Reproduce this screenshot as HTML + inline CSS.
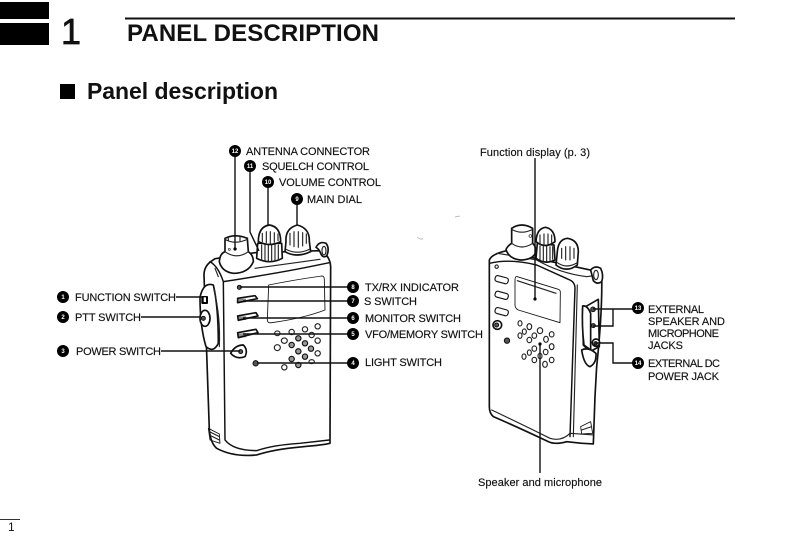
<!DOCTYPE html>
<html><head><meta charset="utf-8"><style>
html,body{margin:0;padding:0;background:#fff;width:793px;height:558px;overflow:hidden}
svg{display:block}
text{font-family:"Liberation Sans",sans-serif;fill:#111}
.l{font-size:11px;stroke:#111;stroke-width:.15px}
.n{font-size:6px;fill:#fff;text-anchor:middle;font-weight:bold}
.b{fill:#000}
.w{fill:#fff;stroke:#111;stroke-width:5;stroke-linejoin:round;stroke-linecap:round}
.o{fill:none;stroke:#111;stroke-width:4.4;stroke-linejoin:round;stroke-linecap:round}
.t{fill:none;stroke:#222;stroke-width:3.4;stroke-linecap:round}
.h{fill:#fff;stroke:#222;stroke-width:3.4}
.hd{fill:#999;stroke:#111;stroke-width:3.4}
.d{fill:#555;stroke:#111;stroke-width:3}
.c{stroke:#111;stroke-width:1.4;fill:none}
</style></head><body>
<svg width="793" height="558" viewBox="0 0 793 558" xmlns="http://www.w3.org/2000/svg">
<rect width="793" height="558" fill="#fff"/>
<rect x="0" y="2" width="49" height="17" fill="#000"/>
<rect x="0" y="23" width="49" height="22" fill="#000"/>
<text x="61" y="44" style="font-size:36px;stroke:#111;stroke-width:.7px" textLength="20">1</text>
<rect x="125" y="17.5" width="610" height="2" fill="#111"/>
<text x="127" y="41" style="font-size:24px;font-weight:bold" textLength="252">PANEL DESCRIPTION</text>
<rect x="60" y="84" width="15" height="15" fill="#000"/>
<text x="87" y="99" style="font-size:23px;font-weight:bold" textLength="191">Panel description</text>
<rect x="0" y="519" width="20" height="1" fill="#333"/>
<text x="8" y="531" style="font-size:12px">1</text>
<path d="M417,237l3,2l3,0M455,217l5,-1" stroke="#aaa" stroke-width=".7" fill="none"/>

<!-- left radio -->
<g transform="translate(190,210) scale(.3333)">
<path class="w" d="M42,195 Q42,170 62,155 L75,146 L195,128 L390,122 Q420,135 422,170 L420,700 Q400,705 340,710 Q250,718 200,735 Q130,742 80,715 Q62,700 58,660 Z"/>
<path class="o" d="M60,155 Q85,170 100,215 L105,690 Q130,722 200,722 Q250,705 330,700 L418,690"/>
<path class="o" d="M100,215 Q260,190 350,172 L418,158"/>
<path class="t" d="M75,175 L85,200 M195,175 L390,148"/>
<path class="w" d="M30,262 Q40,215 70,225 Q85,290 85,400 Q70,430 48,410 Q30,350 30,262 Z"/>
<path class="t" d="M72,240 Q92,320 88,410"/>
<rect class="b" x="34" y="258" width="20" height="24" rx="3"/>
<rect x="41" y="262" width="7" height="14" fill="#fff"/>
<ellipse cx="45" cy="325" rx="15" ry="24" class="w"/>
<circle cx="40" cy="325" r="6" class="d"/>
<!-- antenna -->
<path class="w" d="M88,155 Q90,130 105,125 L105,85 Q135,70 172,85 L175,125 Q190,135 190,155 Q175,190 130,190 Q95,185 88,155 Z"/>
<path class="t" d="M105,88 Q135,105 172,88 M115,80 L115,92 M150,78 L150,92 M105,125 Q140,150 175,125"/>
<circle cx="136" cy="117" r="4" fill="#000"/><circle cx="118" cy="118" r="3" fill="none" stroke="#222" stroke-width="2"/>
<!-- squelch + volume -->
<path class="w" d="M203,100 L275,100 L277,145 Q240,165 200,145 Z"/>
<path class="t" d="M215,105 V150 M225,105 V152 M235,105 V153 M245,105 V153 M255,105 V152 M265,105 V148"/>
<path class="w" d="M205,95 Q205,50 238,45 Q272,50 272,95 Q240,112 205,95 Z"/>
<path class="t" d="M217,70 V95 M229,65 V98 M241,65 V100 M253,68 V97 M264,72 V92"/>
<path class="w" d="M285,125 L288,95 Q285,55 322,45 Q360,55 358,95 L362,125 Q320,145 285,125 Z"/>
<path class="t" d="M300,70 V105 M312,65 V110 M325,65 V112 M338,68 V108 M349,72 V100 M288,118 Q322,135 358,118"/>
<!-- strap lug -->
<path class="w" d="M378,112 Q388,92 408,100 Q420,115 410,138 Q398,145 392,130 Q388,118 378,112 Z"/>
<ellipse cx="402" cy="122" rx="6" ry="13" class="t"/>
<!-- display -->
<path class="o" d="M236,225 Q310,210 395,198 Q403,198 403,208 L405,300 Q340,325 245,338 Q232,340 232,330 Z" style="stroke-width:2.6"/>
<!-- buttons -->
<path class="w" d="M143,265 L195,257 L202,266 L143,278 Z"/><rect x="146" y="266" width="22" height="11" class="b" fill-opacity=".45"/>
<path class="w" d="M143,318 L198,308 L204,318 L145,331 Z"/><rect x="146" y="319" width="22" height="11" class="b" fill-opacity=".45"/>
<path class="w" d="M143,368 L198,358 L204,368 L145,383 Z"/><rect x="146" y="370" width="22" height="12" class="b" fill-opacity=".45"/>
<circle cx="148" cy="232" r="6" class="d"/>
<path class="w" d="M122,430 Q135,405 160,405 Q175,420 165,440 Q140,450 122,430 Z"/><circle cx="152" cy="425" r="6" class="d"/>
<circle cx="197" cy="460" r="8" class="d"/>
<!-- speaker holes -->
<g class="h">
<ellipse cx="262" cy="370" rx="8" ry="7"/><ellipse cx="305" cy="366" rx="8" ry="8"/><ellipse cx="345" cy="358" rx="8" ry="8"/><ellipse cx="383" cy="349" rx="8" ry="8"/>
<ellipse cx="365" cy="375" rx="8" ry="8"/><ellipse cx="283" cy="392" rx="9" ry="8"/>
<ellipse cx="262" cy="413" rx="9" ry="9"/><ellipse cx="383" cy="392" rx="8" ry="8"/>
<ellipse cx="383" cy="430" rx="8" ry="8"/>
<ellipse cx="283" cy="472" rx="8" ry="8"/><ellipse cx="365" cy="455" rx="8" ry="6"/>
</g>
<g class="hd">
<ellipse cx="325" cy="385" rx="8" ry="8"/><ellipse cx="305" cy="405" rx="8" ry="8"/><ellipse cx="345" cy="400" rx="8" ry="8"/>
<ellipse cx="325" cy="424" rx="8" ry="8"/><ellipse cx="363" cy="416" rx="8" ry="8"/>
<ellipse cx="305" cy="447" rx="8" ry="8"/><ellipse cx="345" cy="440" rx="8" ry="8"/><ellipse cx="325" cy="465" rx="8" ry="8"/>
</g>
<!-- bottom clip -->
<path class="o" d="M55,655 L88,672 L90,700 L60,690 Z" style="stroke-width:2.6"/>
<path class="t" d="M58,665 L88,680 M58,675 L88,690"/>
</g>

<!-- right radio -->
<g transform="translate(480,210) scale(.3333)">
<path class="w" d="M28,150 Q35,132 80,122 L120,135 L330,180 L365,190 Q368,300 350,470 L345,560 L340,702 Q300,700 260,695 Q225,705 205,695 Q110,650 40,620 Q28,610 28,590 Z"/>
<path class="o" d="M28,160 Q90,145 170,165 L265,208 Q285,215 285,235 L270,680"/>
<path class="t" d="M50,130 Q120,140 170,150 Q240,190 320,200 M320,200 L355,195 M292,225 L280,680"/>
<path class="t" d="M35,600 Q120,640 210,685 Q245,695 270,670 L340,675"/>
<!-- antenna -->
<path class="w" d="M78,118 Q85,105 95,100 L95,55 Q125,35 158,55 L158,100 Q168,110 168,125 Q160,150 120,150 Q85,145 78,118 Z"/>
<path class="t" d="M95,58 Q125,75 158,58 M95,100 Q125,122 158,100"/>
<circle cx="151" cy="78" r="4" fill="#fff" stroke="#222" stroke-width="2"/>
<!-- knobs -->
<path class="w" d="M172,100 L222,105 L225,150 Q195,165 168,145 Z"/>
<path class="t" d="M180,108 V150 M190,108 V155 M200,108 V155 M210,110 V152 M218,110 V148"/>
<path class="w" d="M168,95 Q170,55 197,52 Q225,58 225,95 Q195,118 168,95 Z"/>
<path class="t" d="M180,75 V103 M192,72 V106 M204,72 V106 M215,75 V102"/>
<path class="w" d="M228,165 L232,125 Q235,88 262,85 Q295,90 295,125 L292,165 Q260,190 228,165 Z"/>
<path class="t" d="M245,115 V145 M257,110 V150 M270,110 V150 M282,115 V145 M232,158 Q260,178 292,158"/>
<path class="w" d="M332,180 Q345,165 362,175 Q372,195 365,215 Q352,225 340,212 Z"/>
<ellipse cx="348" cy="195" rx="7" ry="14" class="t"/>
<!-- display -->
<path class="o" d="M112,200 L235,238 Q242,240 241,250 L240,338 L115,300 Q105,295 105,285 L105,210 Q105,198 112,200 Z" style="stroke-width:2.6"/>
<path class="t" d="M112,212 L228,250"/>
<!-- buttons -->
<rect class="w" x="45" y="200" width="40" height="18" rx="7" transform="rotate(15 65 209)" style="stroke-width:3.4"/>
<rect class="w" x="45" y="247" width="40" height="18" rx="7" transform="rotate(15 65 256)" style="stroke-width:3.4"/>
<rect class="w" x="45" y="296" width="40" height="18" rx="7" transform="rotate(15 65 305)" style="stroke-width:3.4"/>
<circle cx="50" cy="170" r="5" class="h"/>
<circle cx="52" cy="345" r="13" class="w" style="stroke-width:5"/><circle cx="50" cy="345" r="6" class="d"/>
<circle cx="81" cy="392" r="8" class="d"/>
<g class="h">
<ellipse cx="120" cy="340" rx="6" ry="8"/><ellipse cx="148" cy="350" rx="7" ry="9"/><ellipse cx="180" cy="362" rx="8" ry="9"/>
<ellipse cx="120" cy="377" rx="6" ry="8"/><ellipse cx="133" cy="365" rx="6" ry="8"/><ellipse cx="163" cy="377" rx="7" ry="8"/><ellipse cx="215" cy="373" rx="7" ry="8"/>
<ellipse cx="148" cy="390" rx="7" ry="8"/><ellipse cx="198" cy="388" rx="7" ry="9"/>
<ellipse cx="163" cy="416" rx="7" ry="8"/><ellipse cx="215" cy="410" rx="7" ry="9"/>
<ellipse cx="132" cy="440" rx="6" ry="8"/><ellipse cx="148" cy="428" rx="6" ry="8"/><ellipse cx="197" cy="426" rx="7" ry="8"/>
<ellipse cx="163" cy="450" rx="7" ry="8"/><ellipse cx="180" cy="438" rx="6" ry="8"/><ellipse cx="215" cy="450" rx="7" ry="8"/>
<ellipse cx="195" cy="463" rx="7" ry="9"/>
</g>
<!-- side jack cover -->
<path class="w" d="M308,295 L355,268 L358,410 L330,425 L310,405 Z"/>
<path class="w" d="M308,288 Q322,285 332,310 L332,420 L312,405 Q305,350 308,288 Z"/>
<path class="w" d="M305,420 Q325,410 348,430 Q350,460 330,470 Q312,465 305,420 Z"/>
<circle cx="339" cy="298" r="7" class="d"/>
<circle cx="340" cy="347" r="6" class="d"/>
<circle cx="348" cy="398" r="11" class="w"/><circle cx="347" cy="400" r="5" class="d"/>
<path class="o" d="M302,650 L332,635 L338,670 L305,672 Z" style="stroke-width:2.6"/>
<path class="t" d="M305,660 L335,650"/>
</g>

<!-- connectors -->
<g class="c">
<path d="M235,156V249"/><path d="M250,171V232L259,251"/><path d="M268,187V226"/><path d="M297,204V225"/>
<path d="M176,297H202"/><path d="M141,317H200"/><path d="M161,351H240"/>
<path d="M240,287H348"/><path d="M243,301H348"/><path d="M243,318H348"/><path d="M243,334H348"/><path d="M257,363H348"/>
<path d="M535,158V299"/><path d="M540,344V473"/>
<path d="M593,309H633M613,309V326H593"/><path d="M595,343H613V363H633"/>
</g>
<circle cx="235" cy="249" r="1.6" fill="#000"/><circle cx="535" cy="299" r="1.6" fill="#000"/><circle cx="540" cy="344" r="1.6" fill="#000"/>

<!-- bullets -->
<g class="b">
<circle cx="63" cy="297" r="6"/><circle cx="63" cy="317" r="6"/><circle cx="63" cy="351" r="6"/>
<circle cx="353" cy="363" r="6"/><circle cx="353" cy="334" r="6"/><circle cx="353" cy="318" r="6"/><circle cx="353" cy="301" r="6"/><circle cx="353" cy="287" r="6"/>
<circle cx="297" cy="199" r="6"/><circle cx="268" cy="182" r="6"/><circle cx="250" cy="166" r="6"/><circle cx="235" cy="151" r="6"/>
<circle cx="638" cy="308" r="6"/><circle cx="638" cy="363" r="6"/>
</g>
<g class="n">
<text class="n" x="63" y="299">1</text><text class="n" x="63" y="319">2</text><text class="n" x="63" y="353">3</text>
<text class="n" x="353" y="365">4</text><text class="n" x="353" y="336">5</text><text class="n" x="353" y="320">6</text><text class="n" x="353" y="303">7</text><text class="n" x="353" y="289">8</text>
<text class="n" x="297" y="201">9</text><text class="n" x="268" y="184">10</text><text class="n" x="250" y="168">11</text><text class="n" x="235" y="153">12</text>
<text class="n" x="638" y="310">13</text><text class="n" x="638" y="365">14</text>
</g>

<!-- labels -->
<text class="l" x="75" y="301" textLength="101">FUNCTION SWITCH</text>
<text class="l" x="75" y="321" textLength="66">PTT SWITCH</text>
<text class="l" x="76" y="355" textLength="85">POWER SWITCH</text>
<text class="l" x="246" y="155" textLength="124">ANTENNA CONNECTOR</text>
<text class="l" x="262" y="170" textLength="107">SQUELCH CONTROL</text>
<text class="l" x="279" y="186" textLength="102">VOLUME CONTROL</text>
<text class="l" x="307" y="203" textLength="55">MAIN DIAL</text>
<text class="l" x="365" y="291" textLength="94">TX/RX INDICATOR</text>
<text class="l" x="364" y="305" textLength="53">S SWITCH</text>
<text class="l" x="365" y="322" textLength="96">MONITOR SWITCH</text>
<text class="l" x="365" y="338" textLength="118">VFO/MEMORY SWITCH</text>
<text class="l" x="365" y="366" textLength="77">LIGHT SWITCH</text>
<text class="l" x="480" y="156" textLength="110">Function display (p. 3)</text>
<text class="l" x="478" y="486" textLength="124">Speaker and microphone</text>
<text class="l" x="648" y="313" textLength="56">EXTERNAL</text>
<text class="l" x="648" y="325" textLength="77">SPEAKER AND</text>
<text class="l" x="648" y="337" textLength="71">MICROPHONE</text>
<text class="l" x="648" y="349" textLength="35">JACKS</text>
<text class="l" x="648" y="367" textLength="72">EXTERNAL DC</text>
<text class="l" x="648" y="380" textLength="71">POWER JACK</text>
</svg>
</body></html>
